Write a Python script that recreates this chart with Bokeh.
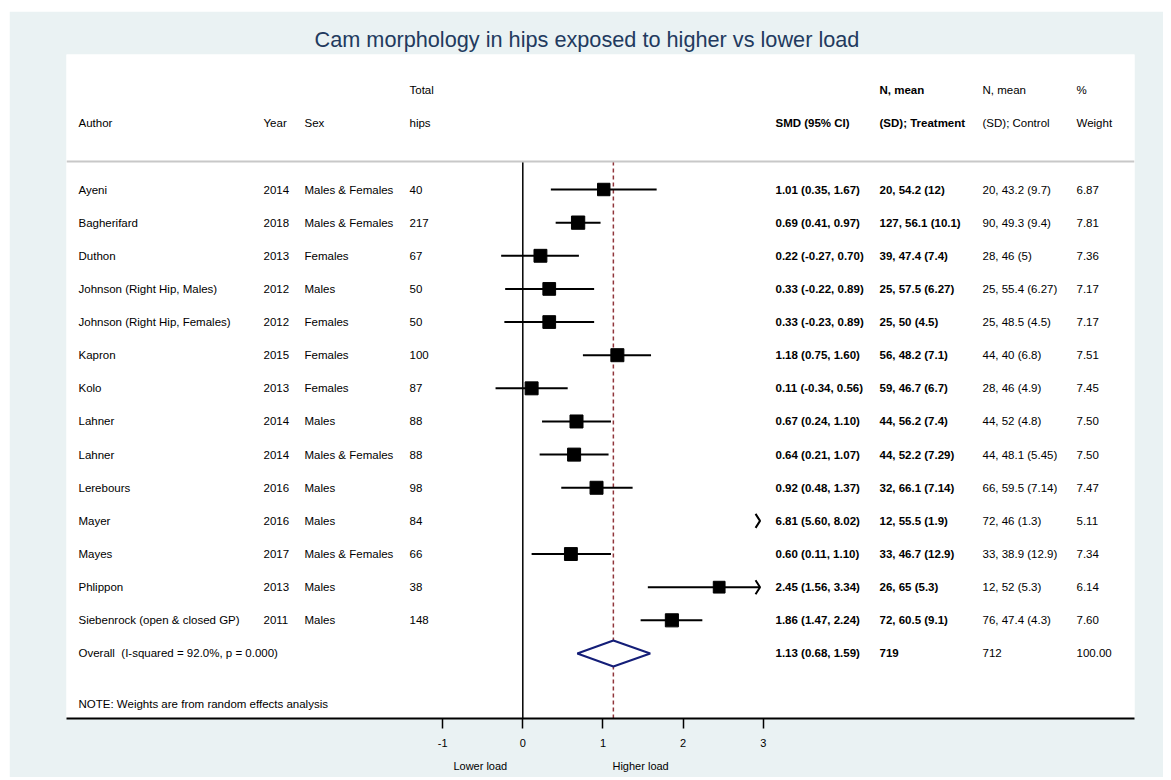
from bokeh.plotting import figure
from bokeh.models import Range1d, FixedTicker, LinearAxis, Span, ColumnDataSource
from bokeh.core.properties import value
from bokeh.embed import file_html
from bokeh.resources import INLINE

# ---------------- data ----------------
title = "Cam morphology in hips exposed to higher vs lower load"
authors = ["Ayeni", "Bagherifard", "Duthon", "Johnson (Right Hip, Males)",
           "Johnson (Right Hip, Females)", "Kapron", "Kolo", "Lahner", "Lahner",
           "Lerebours", "Mayer", "Mayes", "Phlippon", "Siebenrock (open & closed GP)"]
years = [2014, 2018, 2013, 2012, 2012, 2015, 2013, 2014, 2014, 2016, 2016, 2017, 2013, 2011]
sexes = ["Males & Females", "Males & Females", "Females", "Males", "Females", "Females",
         "Females", "Males", "Males & Females", "Males", "Males", "Males & Females",
         "Males", "Males"]
hips = [40, 217, 67, 50, 50, 100, 87, 88, 88, 98, 84, 66, 38, 148]
smd = [1.01, 0.69, 0.22, 0.33, 0.33, 1.18, 0.11, 0.67, 0.64, 0.92, 6.81, 0.60, 2.45, 1.86]
ci_lo = [0.35, 0.41, -0.27, -0.22, -0.23, 0.75, -0.34, 0.24, 0.21, 0.48, 5.60, 0.11, 1.56, 1.47]
ci_hi = [1.67, 0.97, 0.70, 0.89, 0.89, 1.60, 0.56, 1.10, 1.07, 1.37, 8.02, 1.10, 3.34, 2.24]
treatment = ["20, 54.2 (12)", "127, 56.1 (10.1)", "39, 47.4 (7.4)", "25, 57.5 (6.27)",
             "25, 50 (4.5)", "56, 48.2 (7.1)", "59, 46.7 (6.7)", "44, 56.2 (7.4)",
             "44, 52.2 (7.29)", "32, 66.1 (7.14)", "12, 55.5 (1.9)", "33, 46.7 (12.9)",
             "26, 65 (5.3)", "72, 60.5 (9.1)"]
control = ["20, 43.2 (9.7)", "90, 49.3 (9.4)", "28, 46 (5)", "25, 55.4 (6.27)",
           "25, 48.5 (4.5)", "44, 40 (6.8)", "28, 46 (4.9)", "44, 52 (4.8)",
           "44, 48.1 (5.45)", "66, 59.5 (7.14)", "72, 46 (1.3)", "33, 38.9 (12.9)",
           "12, 52 (5.3)", "76, 47.4 (4.3)"]
weights = [6.87, 7.81, 7.36, 7.17, 7.17, 7.51, 7.45, 7.50, 7.50, 7.47, 5.11, 7.34, 6.14, 7.60]

overall_label = "Overall\u00a0 (I-squared = 92.0%, p = 0.000)"
overall_smd, overall_lo, overall_hi = 1.13, 0.68, 1.59
overall_treat, overall_ctrl, overall_weight = "719", "712", "100.00"
note = "NOTE: Weights are from random effects analysis"

header1 = ["", "", "", "Total", "", "N, mean", "N, mean", "%"]
header2 = ["Author", "Year", "Sex", "hips", "SMD (95% CI)", "(SD); Treatment", "(SD); Control", "Weight"]
header_bold = [False, False, False, False, True, True, False, False]
tick_values = [-1, 0, 1, 2, 3]
tick_labels = ["-1", "0", "1", "2", "3"]
fav_pos = [-0.53, 1.47]
fav_labels = ["Lower load", "Higher load"]

# ---------------- layout constants (page pixels) ----------------
PX0, PPU = 522.3, 80.15          # pixel of x=0, pixels per unit
ROW0, ROWH = 189.0, 33.14        # pixel of first row, pixels per row
FL, FR, FT, FB = 66, 1134, 54, 718
FIG_L, FIG_T, FIG_W, FIG_H = 9, 11, 1154, 766
XMAX = 2.96                      # right clip of the forest area
FONT = "Liberation Sans"
FS = "11.5px"


def xd(px):
    return (px - PX0) / PPU


def yd(py):
    return (py - ROW0) / ROWH


col_px = [78, 263, 304, 409, 775, 879, 982, 1076]
col_x = [xd(c) for c in col_px]

p = figure(width=FIG_W, height=FIG_H,
           x_range=Range1d(xd(FL), xd(FR)), y_range=Range1d(yd(FB), yd(FT)),
           output_backend="svg", toolbar_location=None, y_axis_location=None,
           min_border_left=FL - FIG_L, min_border_right=FIG_L + FIG_W - FR,
           min_border_top=FT - FIG_T, min_border_bottom=FIG_H - (FB - FIG_T))
p.margin = (FIG_T, 0, 0, FIG_L)
p.border_fill_color = "#eaf2f3"
p.background_fill_color = "white"
p.outline_line_color = None
p.grid.visible = False

p.title.text = title
p.title.align = "left"
p.title.offset = 248
p.title.text_font = FONT
p.title.text_font_size = "21.7px"
p.title.text_font_style = "normal"
p.title.text_color = "#223a5e"
p.title.standoff = 6

# x axis
ax = p.xaxis[0]
ax.ticker = FixedTicker(ticks=tick_values)
ax.major_label_overrides = {k: v for k, v in zip(tick_values, tick_labels)}
ax.axis_line_width = 2
ax.axis_line_color = "black"
ax.major_tick_out = 10
ax.major_tick_in = 0
ax.major_tick_line_width = 1.5
ax.minor_tick_line_color = None
ax.major_label_standoff = 10
ax.major_label_text_font = FONT
ax.major_label_text_font_size = "11px"
ax.major_label_text_color = "black"

ax2 = LinearAxis(ticker=FixedTicker(ticks=fav_pos),
                 major_label_overrides={k: v for k, v in zip(fav_pos, fav_labels)})
ax2.axis_line_color = None
ax2.major_tick_line_color = None
ax2.minor_tick_line_color = None
ax2.major_tick_out = 0
ax2.major_tick_in = 0
ax2.major_label_standoff = 10
ax2.major_label_text_font = FONT
ax2.major_label_text_font_size = "11px"
ax2.major_label_text_color = "black"
p.add_layout(ax2, "below")

sep_y = yd(161)
bottom_y = yd(FB)
p.add_layout(Span(location=sep_y, dimension="width", line_color="#c8c8c8", line_width=2))

# reference lines
p.segment(x0=[0], y0=[sep_y], x1=[0], y1=[bottom_y], line_color="black", line_width=1.5)
p.segment(x0=[overall_smd], y0=[sep_y], x1=[overall_smd], y1=[bottom_y],
          line_color="#90353b", line_width=1.5, line_dash="4 3")

n = len(authors)
rows = list(range(n))

# confidence intervals
seg_x0, seg_x1, seg_y = [], [], []
for i in rows:
    if ci_lo[i] < XMAX:
        seg_x0.append(ci_lo[i])
        seg_x1.append(min(ci_hi[i], XMAX))
        seg_y.append(i)
p.segment(x0=seg_x0, y0=seg_y, x1=seg_x1, y1=seg_y, line_color="black", line_width=2)

# arrow heads for intervals beyond the plotted range
AD, AH = 4.5 / PPU, 7.0 / ROWH
arr_xs, arr_ys = [], []
for i in rows:
    if ci_hi[i] > XMAX:
        arr_xs.append([XMAX - AD, XMAX, XMAX - AD])
        arr_ys.append([i - AH, i, i + AH])
p.multi_line(xs=arr_xs, ys=arr_ys, line_color="black", line_width=2)

# boxes
bx, by, bs = [], [], []
for i in rows:
    if smd[i] <= XMAX:
        bx.append(smd[i])
        by.append(i)
        bs.append(4.75 * weights[i] ** 0.5)
p.scatter(x=bx, y=by, size=bs, marker="square", fill_color="black", line_color="black")

# overall diamond
oy = n
dh = 13 / ROWH
p.patch(x=[overall_lo, overall_smd, overall_hi, overall_smd, overall_lo],
        y=[oy, oy - dh, oy, oy + dh, oy], fill_color="white",
        line_color="#141e78", line_width=2)

# ---------------- texts ----------------
def txt(x, ys, texts, bold=False):
    src = ColumnDataSource(dict(x=[x] * len(ys), y=ys, t=texts))
    p.text(x="x", y="y", text="t", source=src, text_font=value(FONT),
           text_font_size=FS, text_align="left", text_baseline="middle",
           text_color="black", text_font_style="bold" if bold else "normal")

h1y, h2y = yd(89), yd(122)
for j in range(len(header2)):
    if header1[j]:
        txt(col_x[j], [h1y], [header1[j]], header_bold[j])
    txt(col_x[j], [h2y], [header2[j]], header_bold[j])

smd_txt = ["%.2f (%.2f, %.2f)" % (smd[i], ci_lo[i], ci_hi[i]) for i in rows]
overall_smd_txt = "%.2f (%.2f, %.2f)" % (overall_smd, overall_lo, overall_hi)

txt(col_x[0], rows + [oy], authors + [overall_label])
txt(col_x[1], rows, [str(y) for y in years])
txt(col_x[2], rows, sexes)
txt(col_x[3], rows, [str(h) for h in hips])
txt(col_x[4], rows + [oy], smd_txt + [overall_smd_txt], bold=True)
txt(col_x[5], rows + [oy], treatment + [overall_treat], bold=True)
txt(col_x[6], rows + [oy], control + [overall_ctrl])
txt(col_x[7], rows + [oy], ["%.2f" % w for w in weights] + [overall_weight])
txt(col_x[0], [yd(703)], [note])

open("out.html", "w").write(file_html(p, INLINE))
